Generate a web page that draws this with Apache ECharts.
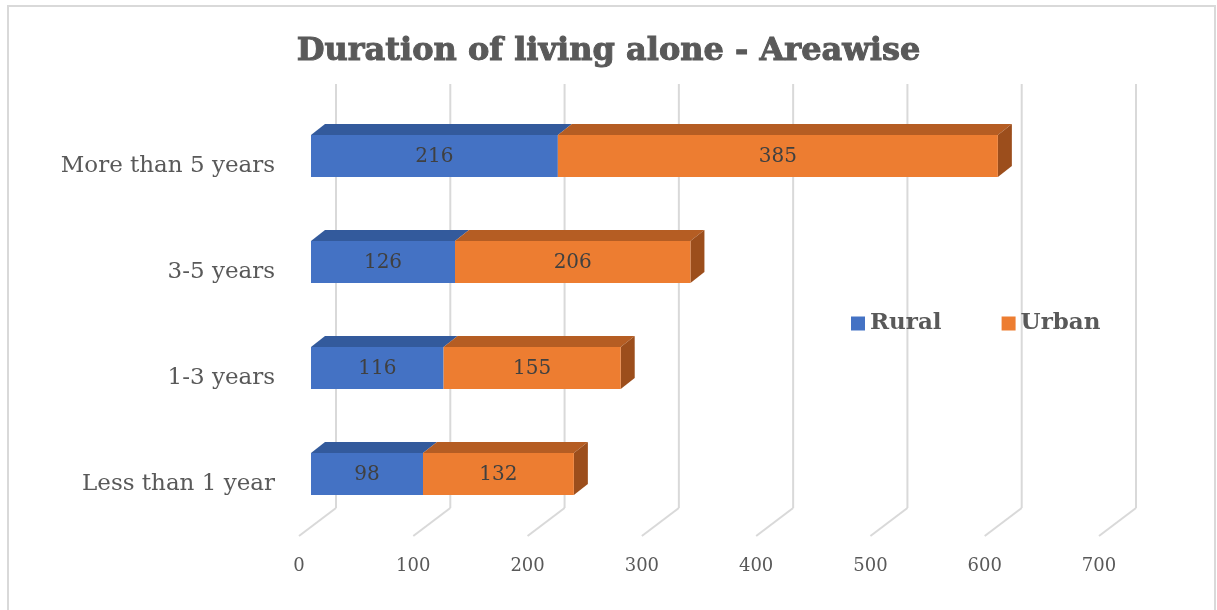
<!DOCTYPE html>
<html>
<head>
<meta charset="utf-8">
<title>Duration of living alone - Areawise</title>
<script src="https://cdn.jsdelivr.net/npm/echarts@6/dist/echarts.min.js"></script>
<style>
  html, body { margin: 0; padding: 0; background: #ffffff; }
  #chart { width: 1217px; height: 610px; }
</style>
</head>
<body>
<div id="chart"></div>
<script>
// Categories (bottom to top) and counts per area
const categories = ['Less than 1 year', '1-3 years', '3-5 years', 'More than 5 years'];
const rural = [98, 116, 126, 216];
const urban = [132, 155, 206, 385];
const axisTicks = [0, 100, 200, 300, 400, 500, 600, 700];

const FONT = '"DejaVu Serif", "Liberation Serif", serif';
const TEXT = '#595959';

// 3D depth of the bars and of the floor
const DEPTH_X = 14, DEPTH_Y = -11;
const FLOOR_X = -37, FLOOR_Y = 28;

// [category index, stack start, stack end, own value]
const ruralData = rural.map((v, i) => [i, 0, v, v]);
const urbanData = urban.map((v, i) => [i, rural[i], rural[i] + v, v]);

function makeBarRenderer(front, top, side, drawSide) {
  return function (params, api) {
    const cat = api.value(0);
    const p0 = api.coord([api.value(1), cat]);
    const p1 = api.coord([api.value(2), cat]);
    const h = api.size([0, 1])[1] * 0.396;
    const x0 = p0[0], x1 = p1[0];
    const yt = p0[1] - h / 2, yb = p0[1] + h / 2;
    const children = [
      {
        type: 'polygon',
        shape: { points: [[x0, yt], [x0 + DEPTH_X, yt + DEPTH_Y], [x1 + DEPTH_X, yt + DEPTH_Y], [x1, yt]] },
        style: { fill: top }
      }
    ];
    if (drawSide) {
      children.push({
        type: 'polygon',
        shape: { points: [[x1, yt], [x1 + DEPTH_X, yt + DEPTH_Y], [x1 + DEPTH_X, yb + DEPTH_Y], [x1, yb]] },
        style: { fill: side }
      });
    }
    children.push({
      type: 'rect',
      shape: { x: x0, y: yt, width: x1 - x0, height: yb - yt },
      style: { fill: front }
    });
    children.push({
      type: 'text',
      x: (x0 + x1) / 2,
      y: (yt + yb) / 2 + 1,
      style: {
        text: String(api.value(3)),
        fill: '#404040',
        font: '20px ' + FONT,
        align: 'center',
        verticalAlign: 'middle'
      }
    });
    return { type: 'group', children: children };
  };
}

// Back wall gridlines plus the slanted floor lines
function renderGrid(params, api) {
  const v = api.value(0);
  const b = api.coord([v, 0]);
  const t = api.coord([v, 1]);
  const style = { stroke: '#d9d9d9', lineWidth: 2 };
  return {
    type: 'group',
    children: [
      { type: 'line', shape: { x1: t[0], y1: t[1], x2: b[0], y2: b[1] }, style: style },
      { type: 'line', shape: { x1: b[0], y1: b[1], x2: b[0] + FLOOR_X, y2: b[1] + FLOOR_Y }, style: style }
    ]
  };
}

const chart = echarts.init(document.getElementById('chart'), null, { renderer: 'canvas' });

chart.setOption({
  backgroundColor: '#ffffff',
  animation: false,
  title: {
    text: 'Duration of living alone - Areawise',
    left: 'center',
    top: 31,
    textStyle: {
      fontFamily: FONT, fontSize: 32, fontWeight: 'bold', color: TEXT,
      textBorderColor: TEXT, textBorderWidth: 1
    }
  },
  legend: {
    left: 846,
    top: 307,
    icon: 'rect',
    itemWidth: 14,
    itemHeight: 14,
    itemGap: 60,
    data: ['Rural', 'Urban'],
    textStyle: { fontFamily: FONT, fontSize: 23, fontWeight: 'bold', color: TEXT }
  },
  graphic: [{
    type: 'rect',
    shape: { x: 8, y: 6, width: 1207, height: 620 },
    style: { fill: 'none', stroke: '#d9d9d9', lineWidth: 2 },
    silent: true
  }],
  grid: [
    { left: 311, width: 800, top: 103, height: 424 },   // bars
    { left: 336, width: 800, top: 84, height: 424 },    // back wall
    { left: 299, width: 800, top: 536, height: 1 }      // tick labels at floor front
  ],
  xAxis: [
    { gridIndex: 0, type: 'value', min: 0, max: 700, interval: 100, show: false },
    { gridIndex: 1, type: 'value', min: 0, max: 700, interval: 100, show: false },
    {
      gridIndex: 2, type: 'value', min: 0, max: 700, interval: 100,
      axisLine: { show: false }, axisTick: { show: false }, splitLine: { show: false },
      axisLabel: {
        margin: 20,
        color: TEXT, fontFamily: FONT, fontSize: 18,
        formatter: v => axisTicks.includes(v) ? String(v) : ''
      }
    }
  ],
  yAxis: [
    {
      gridIndex: 0, type: 'category', data: categories,
      axisLine: { show: false }, axisTick: { show: false }, splitLine: { show: false },
      axisLabel: {
        margin: 36, color: TEXT, fontFamily: FONT, fontSize: 23,
        verticalAlign: 'top', lineHeight: 20
      }
    },
    { gridIndex: 1, type: 'value', min: 0, max: 1, show: false },
    { gridIndex: 2, type: 'value', min: 0, max: 1, show: false }
  ],
  series: [
    {
      type: 'custom',
      name: 'grid',
      xAxisIndex: 1, yAxisIndex: 1,
      data: axisTicks.map(v => [v]),
      renderItem: renderGrid,
      silent: true,
      z: 1
    },
    {
      type: 'custom',
      name: 'Rural',
      xAxisIndex: 0, yAxisIndex: 0,
      itemStyle: { color: '#4472C4' },
      encode: { x: [1, 2], y: 0 },
      data: ruralData,
      renderItem: makeBarRenderer('#4472C4', '#335A9C', '#2B4C85', false),
      z: 2
    },
    {
      type: 'custom',
      name: 'Urban',
      xAxisIndex: 0, yAxisIndex: 0,
      itemStyle: { color: '#ED7D31' },
      encode: { x: [1, 2], y: 0 },
      data: urbanData,
      renderItem: makeBarRenderer('#ED7D31', '#B55D23', '#9C4E1C', true),
      z: 3
    }
  ]
});
</script>
</body>
</html>
